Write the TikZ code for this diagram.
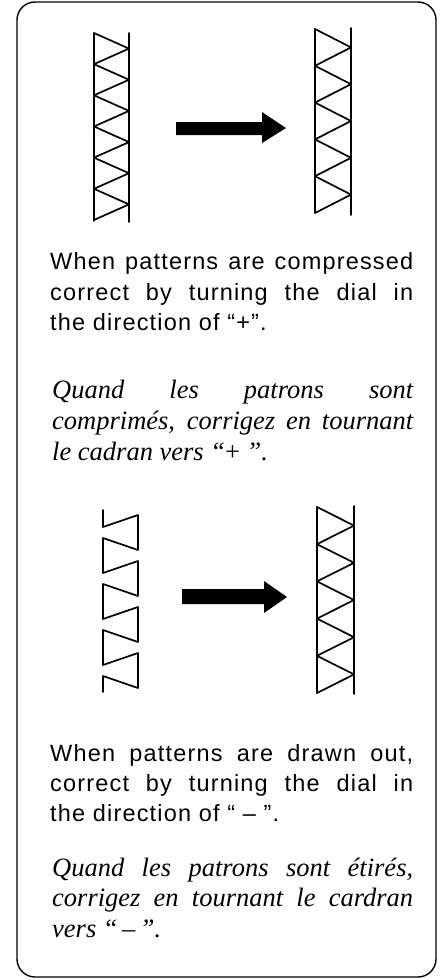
\documentclass[tikz,border=0pt]{standalone}
\usepackage{fontspec}
\newfontfamily\ensf{Liberation Sans}[LetterSpace=5]
\newfontfamily\frit{Liberation Serif}
\begin{document}
\begin{tikzpicture}[x=1pt,y=-1pt,
  stitch/.style={line width=1.7pt,line join=round,line cap=round},
  frame/.style={line width=1.4pt,rounded corners=18pt},
  bigarrow/.style={fill=black,draw=none},
  enline/.style={anchor=base west,inner sep=0pt,font=\ensf\fontsize{23.5}{30}\selectfont},
  frline/.style={anchor=base west,inner sep=0pt,font=\frit\itshape\fontsize{26.5}{30}\selectfont}]
\useasboundingbox (0,0) rectangle (442,980);
\draw[frame] (17,2) rectangle (436,977);

% ---- compressed pattern (top left)
\draw[stitch] (94,33) -- (94,221);
\draw[stitch] (129,33) -- (129,222);
\draw[stitch] (94,33)
  \foreach \k in {1,...,12}{
    -- ({94+35*mod(\k,2)},{33+15.58*\k})};

% ---- top arrow
\fill[bigarrow] (176,122) -- (262,122) -- (262,112) -- (286,128) -- (262,143) -- (262,135) -- (176,135) -- cycle;

% ---- correct pattern (top right)
\draw[stitch] (315,29) -- (315,213);
\draw[stitch] (351,28) -- (351,215);
\draw[stitch] (315,29)
  \foreach \k in {1,...,10}{
    -- ({315+36*mod(\k,2)},{29+18.4*\k})};

% ---- texts (top)
\node[enline] (e1) at (50,269) {\makebox[363pt][s]{When patterns are compressed}};
\node[enline] (e2) at (50,300) {\makebox[363pt][s]{correct by turning the dial in}};
\node[enline] (e3) at (50,330) {the direction of “+”.};
\node[frline] (f1) at (52,398) {\makebox[361pt][s]{Quand les patrons sont}};
\node[frline] (f2) at (52,429) {\makebox[361pt][s]{comprimés, corrigez en tournant}};
\node[frline] (f3) at (52,460) {le cadran vers “{\upshape+} ”.};

% ---- stretched pattern (bottom left)
\draw[stitch] (103,510) -- (103,527)
  \foreach \k in {0,...,6}{
    -- ({138-35*mod(\k,2)},{515+23*\k})
    -- ({138-35*mod(\k,2)},{550+23*\k})}
  -- (103,676) -- (103,692);

% ---- bottom arrow
\fill[bigarrow] (182,589) -- (264,589) -- (264,581) -- (287,597) -- (264,613) -- (264,604) -- (182,604) -- cycle;

% ---- correct pattern (bottom right)
\draw[stitch] (317,507) -- (317,693);
\draw[stitch] (354,506) -- (354,694);
\draw[stitch] (317,507)
  \foreach \k in {1,...,10}{
    -- ({317+37*mod(\k,2)},{507+18.6*\k})};

% ---- texts (bottom)
\node[enline] (e4) at (50,761) {\makebox[363pt][s]{When patterns are drawn out,}};
\node[enline] (e5) at (50,791) {\makebox[363pt][s]{correct by turning the dial in}};
\node[enline] (e6) at (50,821) {the direction of “ – ”.};
\node[frline] (f4) at (52,876) {\makebox[361pt][s]{Quand les patrons sont étirés,}};
\node[frline] (f5) at (52,906) {\makebox[361pt][s]{corrigez en tournant le cardran}};
\node[frline] (f6) at (52,937) {vers “\,–\,”.};
\end{tikzpicture}
\end{document}
